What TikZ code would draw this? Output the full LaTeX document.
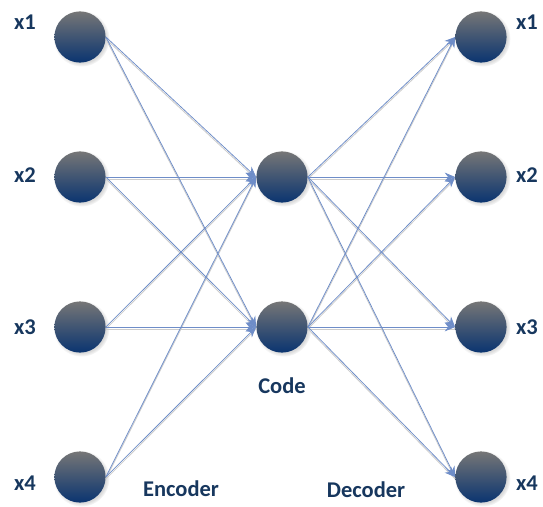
\documentclass[tikz,border=0pt]{standalone}
\usepackage{fontspec}
\setmainfont{Carlito}
\usetikzlibrary{arrows.meta,positioning,shadows}
\definecolor{cNavy}{HTML}{17375E}
\definecolor{cLink}{HTML}{6E8DC8}
\definecolor{cBallTop}{HTML}{767676}
\definecolor{cBallBot}{HTML}{0A3470}

\begin{document}
\begin{tikzpicture}[x=0.025cm, y=-0.025cm, font=\fontsize{16}{18}\selectfont\bfseries,
    >={Stealth[length=2.6mm, width=2.2mm]}]
  \tikzset{
    unit/.style={circle, minimum size=1.28cm, inner sep=0pt,
      top color=cBallTop, bottom color=cBallBot,
      circular drop shadow={shadow xshift=0.9pt, shadow yshift=-1pt, opacity=0.3}},
    lbl/.style={text=cNavy},
    link/.style={->, draw=cLink, line width=0.55pt},
    ghost/.style={draw=gray!40, line width=0.6pt, transform canvas={yshift=-1.4pt}}
  }
  \useasboundingbox (0,0) rectangle (543,506);

  % input and output layers
  \foreach \i/\y in {1/37, 2/177, 3/327, 4/477} {
    \node[unit] (in\i)  at (80,\y)  {};
    \node[unit] (out\i) at (481,\y) {};
  }
  % code layer
  \node[unit] (code1) at (282,177) {};
  \node[unit] (code2) at (282,327) {};

  \foreach \i/\y in {1/22, 2/175, 3/327, 4/483} {
    \node[lbl] (inlbl\i)  at (25,\y)  {x\i};
    \node[lbl] (outlbl\i) at (527,\y) {x\i};
  }
  \node[lbl] (codelbl) at (282,386) {Code};
  \node[lbl] (enclbl)  at (181,489) {Encoder};
  \node[lbl] (declbl)  at (366,490) {Decoder};

  % encoder and decoder weights
  \foreach \i in {1,...,4} \foreach \j in {1,2} {
    \draw[ghost] (in\i.east) -- (code\j.west);
    \draw[ghost] (code\j.east) -- (out\i.west);
  }
  \foreach \i in {1,...,4} \foreach \j in {1,2} {
    \draw[link] (in\i.east) -- (code\j.west);
    \draw[link] (code\j.east) -- (out\i.west);
  }
\end{tikzpicture}
\end{document}
